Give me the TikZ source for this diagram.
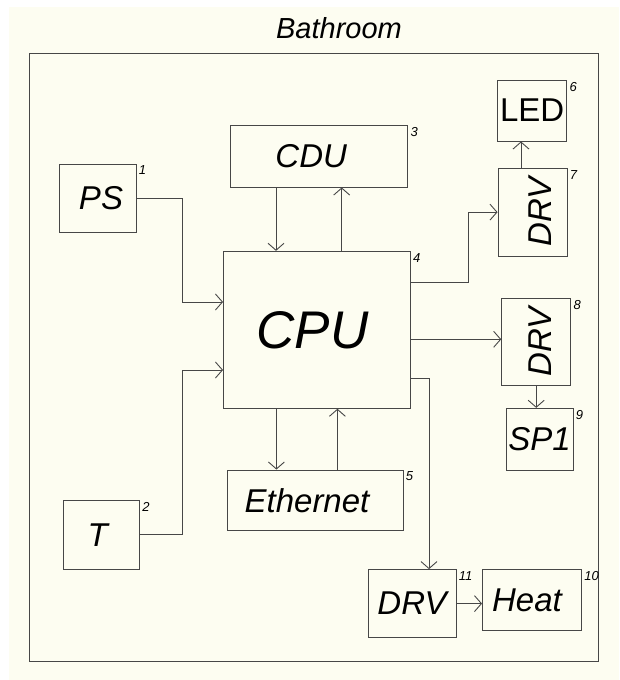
\documentclass[tikz,border=0pt]{standalone}
\usepackage{fontspec}
\setmainfont{Liberation Sans}
\usetikzlibrary{arrows.meta,positioning}
\definecolor{paper}{HTML}{FDFDF1}
\definecolor{wire}{HTML}{474747}

\begin{document}
\begin{tikzpicture}[x=1pt, y=-1pt, color=wire, line width=0.9pt,
  every node/.style={text=black},
  box/.style={draw, rectangle, inner sep=0pt, font=\fontsize{33}{33}\selectfont\itshape},
  num/.style={font=\fontsize{13}{13}\selectfont\itshape, inner sep=2pt, anchor=north west},
  link/.style={-{Straight Barb[length=7pt, width=16pt]}}]
\useasboundingbox (0,0) rectangle (619,680);
\fill[paper] (9,7) rectangle (619,680);
\node[draw, inner sep=0pt, minimum width=569pt, minimum height=608.5pt] (room) at (313.5,357.25) {};
\node[font=\fontsize{29}{29}\selectfont\itshape, anchor=base] (title) at (339,38) {Bathroom};
\node[box, minimum width=77pt, minimum height=68.5pt, label={[num]north east:1}] (ps) at (97.5,198.25) {\kern7pt PS};
\node[box, minimum width=76.5pt, minimum height=69.3pt, label={[num]north east:2}] (t) at (101.25,534.7) {T\kern7pt};
\node[box, minimum width=177pt, minimum height=61.3pt, label={[num]north east:3}] (cdu) at (319.2,156.35) {CDU\kern16pt};
\node[box, minimum width=186.7pt, minimum height=157pt, font=\fontsize{53}{53}\selectfont\itshape, label={[num]north east:4}] (cpu) at (316.85,329.8) {CPU\kern9pt};
\node[box, minimum width=176pt, minimum height=60.7pt, label={[num]north east:5}] (eth) at (315,500.35) {Ethernet\kern16pt};
\node[box, minimum width=69pt, minimum height=61pt, label={[num]north east:6}] (led) at (532.2,110.5) {\upshape LED};
\node[box, minimum width=69pt, minimum height=87.7pt, label={[num]north east:7}] (drv7) at (532.5,212.15) {\kern15pt\rotatebox{90}{DRV}};
\node[box, minimum width=69pt, minimum height=86.7pt, label={[num]north east:8}] (drv8) at (536.2,341.65) {\kern7pt\rotatebox{90}{DRV}};
\node[box, minimum width=66.7pt, minimum height=61.7pt, label={[num]north east:9}] (sp1) at (539.65,439.15) {SP1};
\node[box, minimum width=99pt, minimum height=61pt, label={[num]north east:10}] (heat) at (532,599.9) {Heat\kern10pt};
\node[box, minimum width=88pt, minimum height=68pt, label={[num]north east:11}] (drv11) at (412,603.6) {DRV};
% inputs
\draw[link] (ps.east) -- ++(45.7,0) |- ([yshift=27.8pt]cpu.west);
\draw[link] (t.east) -- ++(42.2,0) |- ([yshift=-40.2pt]cpu.west);
\draw[link] ([xshift=-43.2pt]cdu.south) -- ([xshift=-43.2pt]cdu.south |- cpu.north);
\draw[link] ([xshift=22.5pt]cdu.south |- cpu.north) -- ([xshift=22.5pt]cdu.south);
\draw[link] ([xshift=-38.6pt]eth.north |- cpu.south) -- ([xshift=-38.6pt]eth.north);
\draw[link] ([xshift=22.4pt]eth.north) -- ([xshift=22.4pt]eth.north |- cpu.south);
% outputs
\draw[link] ([yshift=47.1pt]cpu.east) -- ++(57.5,0) |- (drv7.west);
\draw[link] ([yshift=-9.5pt]cpu.east) -- ([yshift=-9.5pt]cpu.east -| drv8.west);
\draw[link] ([yshift=-48.2pt]cpu.east) -| ([xshift=17pt]drv11.north);
\draw[link] ([xshift=-11.5pt]drv7.north) -- ([xshift=-11.5pt]drv7.north |- led.south);
\draw[link] (drv8.south) -- (drv8.south |- sp1.north);
\draw[link] (drv11.east) -- (drv11.east -| heat.west);
\end{tikzpicture}
\end{document}
